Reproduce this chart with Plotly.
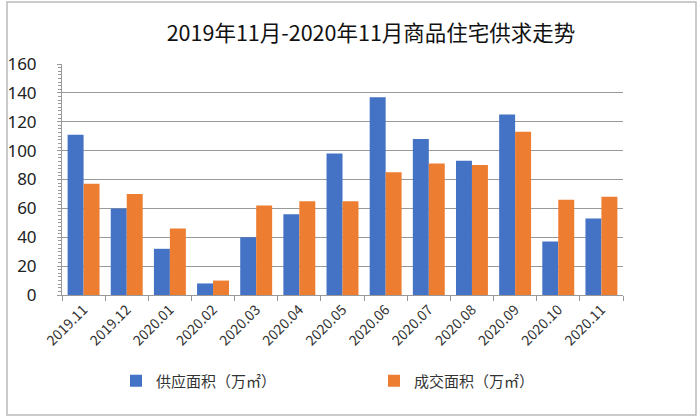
import plotly.graph_objects as go

months = ["2019.11", "2019.12", "2020.01", "2020.02", "2020.03", "2020.04", "2020.05",
          "2020.06", "2020.07", "2020.08", "2020.09", "2020.10", "2020.11"]
supply = [111, 60, 32, 8, 40, 56, 98, 137, 108, 93, 125, 37, 53]
deal = [77, 70, 46, 10, 62, 65, 65, 85, 91, 90, 113, 66, 68]

title_text = "2019年11月-2020年11月商品住宅供求走势"
supply_name = "供应面积（万㎡）"
deal_name = "成交面积（万㎡）"

CJK = "Noto Sans CJK SC"

fig = go.Figure()
fig.add_trace(go.Bar(x=months, y=supply, name=supply_name, marker_color="#4472C4", marker_line_width=0))
fig.add_trace(go.Bar(x=months, y=deal, name=deal_name, marker_color="#ED7D31", marker_line_width=0))

L, R, T, B = 62, 77, 64, 125
W, H = 700, 420
pw, ph = W - L - R, H - T - B

fig.update_layout(
    width=W, height=H,
    margin=dict(l=L, r=R, t=T, b=B, autoexpand=False),
    paper_bgcolor="white", plot_bgcolor="white",
    barmode="group", bargap=0.26, bargroupgap=0,
    title=dict(text=title_text, xref="container", x=371 / W, xanchor="center",
               yref="container", y=1 - 33 / H, yanchor="middle",
               font=dict(family=CJK, size=21.5, color="#111")),
    font=dict(family=CJK, color="#333"),
    showlegend=True,
    legend=dict(orientation="h", xref="container", yref="container",
                x=116 / W, xanchor="left", y=1 - 381 / H, yanchor="middle",
                entrywidth=213, entrywidthmode="pixels",
                font=dict(family=CJK, size=15, color="#333"),
                bgcolor="rgba(0,0,0,0)", itemclick=False),
    shapes=[dict(type="rect", xref="paper", yref="paper",
                 x0=(7 - L) / pw, x1=(696 - L) / pw,
                 y0=(H - B - 415) / ph, y1=(H - B - 2) / ph,
                 line=dict(color="#BBBBBB", width=1.5), fillcolor="rgba(0,0,0,0)", layer="below")],
)

fig.update_xaxes(
    type="category", showline=True, linecolor="#999999", linewidth=1, automargin=False,
    ticks="outside", tickson="boundaries", ticklen=5, tickcolor="#999999",
    tickangle=-45, tickfont=dict(family=CJK, size=14, color="#333"),
    showgrid=False,
)
fig.update_yaxes(
    range=[0, 160], dtick=20, showline=True, linecolor="#999999", linewidth=1, automargin=False,
    ticks="outside", ticklen=4, tickcolor="#999999",
    ticklabelstandoff=17,
    tickfont=dict(family="Noto Sans", size=17, color="#222"),
    showgrid=True, gridcolor="#999999", gridwidth=1,
    minor=dict(dtick=2.5, ticks="outside", ticklen=3, tickcolor="#999999", showgrid=False),
    zeroline=False,
)

fig.write_html("out.html", config={"displayModeBar": False},
               post_script="document.body.style.margin='0';")
